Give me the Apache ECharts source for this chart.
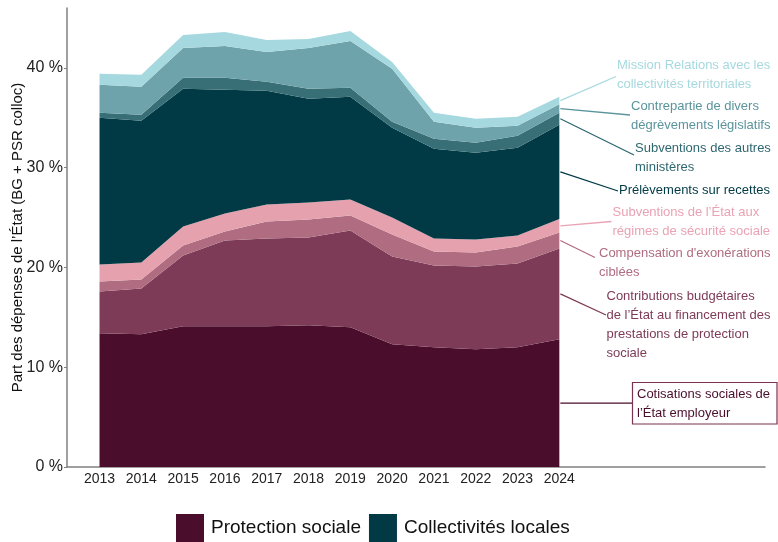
<!DOCTYPE html>
<html>
<head>
<meta charset="utf-8">
<script src="https://cdn.jsdelivr.net/npm/echarts@6/dist/echarts.min.js"></script>
<style>
  html, body { margin: 0; padding: 0; background: #fff; }
  #chart { width: 778px; height: 542px; }
</style>
</head>
<body>
<div id="chart"></div>
<script>
// Years on the horizontal axis
const years = [2013, 2014, 2015, 2016, 2017, 2018, 2019, 2020, 2021, 2022, 2023, 2024];

// Shares of state spending (%), stacked from bottom to top
const cotisations     = [13.4, 13.3, 14.1, 14.1, 14.1, 14.2, 14.0, 12.3, 12.0, 11.8, 12.0, 12.8];
const contributions   = [4.2, 4.6, 7.1, 8.6, 8.8, 8.8, 9.7, 8.8, 8.2, 8.3, 8.4, 9.1];
const compensation    = [1.0, 0.9, 1.0, 0.9, 1.7, 1.8, 1.5, 2.2, 1.4, 1.4, 1.7, 1.6];
const subvRegimes     = [1.7, 1.7, 1.9, 1.8, 1.7, 1.7, 1.6, 1.7, 1.3, 1.3, 1.1, 1.35];
const prelevements    = [14.7, 14.2, 13.8, 12.4, 11.4, 10.4, 10.3, 9.0, 9.0, 8.7, 8.8, 9.45];
const subvAutres      = [0.5, 0.6, 1.1, 1.2, 0.9, 1.0, 0.9, 0.6, 1.0, 1.0, 1.2, 1.2];
const contrepartie    = [2.8, 2.8, 3.0, 3.2, 3.0, 4.1, 4.7, 5.3, 1.7, 1.5, 1.0, 0.85];
const missionRelCT    = [1.1, 1.2, 1.3, 1.4, 1.2, 0.9, 1.0, 0.7, 0.9, 0.9, 0.9, 0.75];

// Y-axis tick labels
const yTicks = [0, 10, 20, 30, 40];

// Legend groups
const groups = ['Protection sociale', 'Collectivités locales'];

const FONT = '"Liberation Sans", Arial, sans-serif';

const layers = [
  { name: 'Cotisations sociales de l\'État employeur', data: cotisations, color: '#4a0d2b',
    text: 'Cotisations sociales de\nl\u2019État employeur', textColor: '#4a0d2b', tx: 637, ty: 384.5, end: [632.5, null], box: true },
  { name: 'Contributions budgétaires', data: contributions, color: '#7e3b57',
    text: 'Contributions budgétaires\nde l\u2019État au financement des\nprestations de protection\nsociale', textColor: '#7e3b57', tx: 606.5, ty: 287, end: [606, 315] },
  { name: 'Compensation d\'exonérations ciblées', data: compensation, color: '#b06c80',
    text: 'Compensation d\'exonérations\nciblées', textColor: '#b06c80', tx: 599, ty: 244, end: [595, 257.5] },
  { name: 'Subventions de l\'État aux régimes', data: subvRegimes, color: '#e5a1ae',
    text: 'Subventions de l\u2019État aux\nrégimes de sécurité sociale', textColor: '#eaa3b3', tx: 612.5, ty: 203, end: [611.5, 221.5] },
  { name: 'Prélèvements sur recettes', data: prelevements, color: '#013a45',
    text: 'Prélèvements sur recettes', textColor: '#013a45', tx: 619, ty: 180.5, end: [618, 191] },
  { name: 'Subventions des autres ministères', data: subvAutres, color: '#386e76',
    text: 'Subventions des autres\nministères', textColor: '#2f6770', tx: 635, ty: 138.5, end: [634, 155] },
  { name: 'Contrepartie de divers dégrèvements', data: contrepartie, color: '#6ea3ab',
    text: 'Contrepartie de divers\ndégrèvements législatifs', textColor: '#5a949c', tx: 631, ty: 97, end: [630, 115] },
  { name: 'Mission Relations avec les collectivités territoriales', data: missionRelCT, color: '#a6d9df',
    text: 'Mission Relations avec les\ncollectivités territoriales', textColor: '#a6d9df', tx: 617, ty: 55.5, end: [616, 76.5] }
];

// Each point is [share, year]; the share comes first so the stack runs on the vertical axis
const series = layers.map(l => ({
  name: l.name,
  type: 'line',
  stack: 'total',
  symbol: 'none',
  silent: true,
  encode: { x: 1, y: 0 },
  lineStyle: { width: 0 },
  itemStyle: { color: l.color },
  areaStyle: { color: l.color, opacity: 1 },
  data: years.map((y, i) => [l.data[i], y])
}));

// Empty series that only feed the legend
series.push(
  { name: groups[0], type: 'line', data: [], itemStyle: { color: '#4a0d2b' } },
  { name: groups[1], type: 'line', data: [], itemStyle: { color: '#013a45' } }
);

const chart = echarts.init(document.getElementById('chart'), null, { renderer: 'canvas' });

const option = {
  animation: false,
  backgroundColor: '#ffffff',
  textStyle: { fontFamily: FONT },
  grid: { left: 67, right: 13, top: 8, bottom: 75, containLabel: false, outerBoundsMode: 'none' },
  legend: {
    data: groups,
    left: 176, top: 514,
    padding: 0,
    itemWidth: 28, itemHeight: 28, itemGap: 8,
    icon: 'rect',
    textStyle: { fontSize: 19, color: '#111', fontFamily: FONT, padding: [0, 0, 0, 2] }
  },
  xAxis: {
    type: 'value',
    min: 2012.222,
    max: 2028.92,
    splitLine: { show: false },
    axisTick: { show: false },
    axisLine: { show: true, lineStyle: { color: '#808080', width: 1.5 } },
    axisLabel: {
      customValues: years,
      formatter: v => String(v),
      fontSize: 14, color: '#222', margin: 5, fontFamily: FONT
    }
  },
  yAxis: {
    type: 'value',
    min: 0,
    max: 46,
    name: 'Part des dépenses de l\u2019État (BG + PSR colloc)',
    nameLocation: 'middle',
    nameGap: 42,
    nameRotate: 90,
    nameMoveOverlap: false,
    nameTextStyle: { fontSize: 15, color: '#111', fontFamily: FONT },
    splitLine: { show: false },
    axisLine: { show: true, lineStyle: { color: '#808080', width: 1.5 } },
    axisTick: { show: true, customValues: yTicks, length: 3, lineStyle: { color: '#808080' } },
    axisLabel: {
      customValues: yTicks,
      formatter: v => v + ' %',
      fontSize: 16, color: '#222', margin: 4, fontFamily: FONT
    }
  },
  series: series
};

chart.setOption(option);

// Annotations: leader lines from the middle of each band at the last year
const last = years.length - 1;
const graphics = [];
let cum = 0;
layers.forEach(l => {
  const v = l.data[last];
  const mid = cum + v / 2;
  cum += v;
  const p = chart.convertToPixel({ xAxisIndex: 0, yAxisIndex: 0 }, [years[last], mid]);
  const ex = l.end[0];
  const ey = l.end[1] === null ? p[1] : l.end[1];
  graphics.push({
    type: 'line',
    silent: true,
    shape: { x1: p[0] + 1, y1: p[1], x2: ex, y2: ey },
    style: { stroke: l.textColor, lineWidth: 1.3 }
  });
  if (l.box) {
    graphics.push({
      type: 'rect',
      silent: true,
      shape: { x: ex, y: 382.5, width: 144.5, height: 41.5 },
      style: { fill: 'none', stroke: '#7a3350', lineWidth: 1.2 }
    });
  }
  graphics.push({
    type: 'text',
    silent: true,
    x: l.tx, y: l.ty,
    style: {
      text: l.text,
      fill: l.textColor,
      font: '13px ' + FONT,
      lineHeight: 19,
      align: 'left',
      verticalAlign: 'top'
    }
  });
});

chart.setOption({ graphic: graphics });
</script>
</body>
</html>
